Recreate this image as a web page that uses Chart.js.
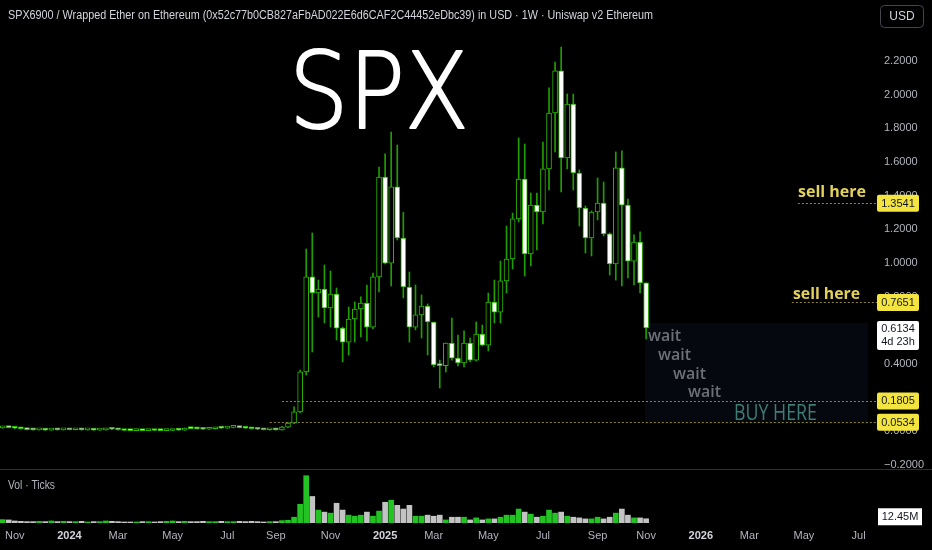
<!DOCTYPE html>
<html>
<head>
<meta charset="utf-8">
<script src="https://cdn.jsdelivr.net/npm/chart.js@4.4.1/dist/chart.umd.min.js"></script>
<style>
  html, body { margin: 0; padding: 0; background: #000; overflow: hidden; }
  #wrap { position: relative; width: 932px; height: 550px; }
  canvas { position: absolute; left: 0; }
  #main { top: 0; }
  #vol { top: 470px; }
</style>
</head>
<body>
<div id="wrap">
  <canvas id="main" width="932" height="470"></canvas>
  <canvas id="vol" width="932" height="80"></canvas>
</div>
<script>
// weekly bars, first bar = week of 2023-10-16, last = week of 2025-10-27
const firstWeek = Date.UTC(2023, 9, 16);

const opens = [
  0.020,0.024,0.022,0.018,0.015,0.010,0.008,0.009,0.007,0.010,0.008,0.011,0.009,0.011,0.008,0.009,0.007,0.008,0.014,0.012,
  0.009,0.005,0.004,0.005,0.004,0.006,0.005,0.004,0.005,0.010,0.007,0.018,0.016,0.014,0.012,0.015,0.020,0.019,0.023,0.027,
  0.022,0.018,0.015,0.012,0.009,0.010,
  0.008,0.025,0.049,0.115,0.353,0.917,0.821,0.845,0.732,0.815,0.613,0.530,0.667,0.726,0.762,0.619,0.917,1.510,0.999,1.451,
  1.148,0.857,0.619,0.691,0.744,0.649,0.394,0.390,0.524,0.435,0.406,0.524,0.423,0.578,0.512,0.768,0.708,0.893,1.023,1.261,
  1.498,1.053,1.343,1.302,1.558,1.890,2.140,1.623,1.943,1.534,1.326,1.148,1.302,1.355,1.172,0.994,1.564,1.343,1.011,1.124,0.881
];
const highs = [
  0.028,0.030,0.024,0.020,0.017,0.012,0.010,0.011,0.012,0.011,0.014,0.012,0.013,0.012,0.010,0.011,0.010,0.016,0.016,0.014,
  0.010,0.007,0.006,0.006,0.007,0.008,0.006,0.006,0.012,0.011,0.020,0.024,0.018,0.016,0.016,0.022,0.024,0.026,0.030,0.029,
  0.025,0.020,0.016,0.014,0.012,0.011,
  0.030,0.052,0.145,0.364,1.083,1.178,0.898,0.988,0.952,0.851,0.619,0.738,0.768,0.798,0.869,0.940,1.569,1.647,1.777,1.700,
  1.300,0.946,0.869,0.810,0.756,0.649,0.423,0.524,0.673,0.572,0.596,0.554,0.649,0.631,0.821,0.898,1.011,1.219,1.296,1.742,
  1.706,1.415,1.415,1.718,2.039,2.193,2.282,2.003,2.003,1.552,1.338,1.308,1.504,1.480,1.178,1.659,1.665,1.379,1.166,1.184,0.881
];
const lows = [
  0.018,0.020,0.016,0.012,0.008,0.006,0.006,0.006,0.006,0.007,0.007,0.008,0.008,0.007,0.006,0.006,0.005,0.007,0.010,0.007,
  0.004,0.003,0.003,0.003,0.003,0.004,0.003,0.003,0.004,0.006,0.006,0.015,0.012,0.010,0.010,0.013,0.017,0.017,0.020,0.020,
  0.017,0.013,0.010,0.008,0.006,0.006,
  0.006,0.022,0.045,0.109,0.334,0.471,0.679,0.643,0.619,0.542,0.412,0.453,0.530,0.560,0.536,0.610,0.827,0.994,0.863,1.136,
  0.792,0.530,0.602,0.554,0.453,0.382,0.257,0.352,0.423,0.388,0.382,0.412,0.418,0.507,0.477,0.643,0.643,0.821,0.964,1.243,
  0.922,0.982,1.077,1.231,1.433,1.659,1.421,1.558,1.433,1.219,1.059,1.041,1.255,1.160,0.928,0.898,0.863,0.911,0.869,0.821,0.548
];
const closes = [
  0.024,0.022,0.018,0.015,0.010,0.008,0.009,0.007,0.010,0.008,0.011,0.009,0.011,0.008,0.009,0.007,0.008,0.014,0.012,0.009,
  0.005,0.004,0.005,0.004,0.006,0.005,0.004,0.005,0.010,0.007,0.018,0.016,0.014,0.012,0.015,0.020,0.019,0.023,0.027,0.022,
  0.018,0.015,0.012,0.009,0.010,0.008,
  0.025,0.049,0.115,0.353,0.917,0.821,0.845,0.732,0.815,0.613,0.530,0.667,0.726,0.762,0.619,0.917,1.510,0.999,1.451,1.148,
  0.857,0.619,0.691,0.744,0.649,0.394,0.390,0.524,0.435,0.406,0.524,0.423,0.578,0.512,0.768,0.708,0.893,1.023,1.261,1.498,
  1.053,1.343,1.302,1.558,1.890,2.140,1.623,1.943,1.534,1.326,1.148,1.302,1.355,1.172,0.994,1.564,1.343,1.011,1.124,0.881,0.6134
];
// volume in millions
const volumes = [
  10,9,6,5,4,4,5,4,6,4,5,4,4,5,3,4,4,6,5,4,3,3,3,4,4,3,4,5,6,4,5,4,4,5,4,4,5,4,4,5,4,5,4,3,4,4,
  7,8,17,55,139,78,38,32,29,58,38,23,20,23,32,20,35,61,67,52,41,52,20,20,23,20,23,9,17,17,17,9,15,9,12,12,17,23,23,41,
  32,26,17,20,38,29,32,20,17,15,12,12,17,12,17,29,41,23,15,15,12.45
];

const priceTicks = [-0.2, 0, 0.2, 0.4, 0.6, 0.8, 1.0, 1.2, 1.4, 1.6, 1.8, 2.0, 2.2];
const monthTicks = [[2023,10],[2024,0],[2024,2],[2024,4],[2024,6],[2024,8],[2024,10],[2025,0],[2025,2],[2025,4],[2025,6],[2025,8],[2025,10],[2026,0],[2026,2],[2026,4],[2026,6]];
const tickLabels = ['Nov','2024','Mar','May','Jul','Sep','Nov','2025','Mar','May','Jul','Sep','Nov','2026','Mar','May','Jul'];

const levels = [1.3541, 0.7651, 0.1805, 0.0534];
const levelFrom = [131, 130, 46, 44];
const lastPrice = 0.6134;
const lastVolume = 12.45;

Chart.defaults.font.family = '"Liberation Sans", sans-serif';

const WEEK = 7 * 864e5;
const tickIdx = monthTicks.map(([y, m]) => Math.floor((Date.UTC(y, m, 1) - firstWeek) / WEEK));
const idx = opens.map((_, i) => i);
const isUp = i => closes[i] >= opens[i];
const xMin = -0.445, xMax = 142.55;

const fmt = v => (v < 0 ? '\u2212' : '') + Math.abs(v).toFixed(4);

function fitText(ctx, text, x, y, w, stroke) {
  const m = ctx.measureText(text).width;
  ctx.save();
  ctx.translate(x, y);
  ctx.scale(w / m, 1);
  ctx.fillText(text, 0, 0);
  if (stroke) ctx.strokeText(text, 0, 0);
  ctx.restore();
}

function box(ctx, x, y, w, h, fill) {
  ctx.fillStyle = fill;
  ctx.beginPath();
  ctx.roundRect(x, y, w, h, 2);
  ctx.fill();
}

const mainAnnot = {
  id: 'mainAnnot',
  beforeDatasetsDraw(chart) {
    const ctx = chart.ctx;
    ctx.save();
    ctx.fillStyle = '#060810';
    ctx.fillRect(645, 323, 223, 101);
    ctx.restore();
  },
  afterDraw(chart) {
    const { ctx } = chart;
    const xs = chart.scales.x, ys = chart.scales.y;
    ctx.save();

    // pane separator
    ctx.strokeStyle = '#2a2e39';
    ctx.lineWidth = 1;
    ctx.beginPath(); ctx.moveTo(0, 469.5); ctx.lineTo(932, 469.5); ctx.stroke();

    // title
    ctx.textBaseline = 'middle';
    ctx.textAlign = 'left';
    ctx.fillStyle = '#d1d4dc';
    ctx.font = '12px "Liberation Sans"';
    fitText(ctx, 'SPX6900 / Wrapped Ether on Ethereum (0x52c77b0CB827aFbAD022E6d6CAF2C44452eDbc39) in USD \u00b7 1W \u00b7 Uniswap v2 Ethereum', 8, 16, 645);

    // USD button
    ctx.strokeStyle = '#434651';
    ctx.beginPath(); ctx.roundRect(880.5, 5.5, 43, 22, 4); ctx.stroke();
    ctx.textAlign = 'center';
    ctx.fillStyle = '#d1d4dc';
    ctx.font = '12px "Liberation Sans"';
    ctx.fillText('USD', 902, 17);

    // hand written SPX
    ctx.textAlign = 'left';
    ctx.textBaseline = 'alphabetic';
    ctx.fillStyle = '#ffffff';
    ctx.strokeStyle = '#ffffff';
    ctx.lineWidth = 2.2;
    ctx.lineJoin = 'round';
    ctx.font = '200 106px "DejaVu Sans"';
    fitText(ctx, 'SPX', 289, 128, 180, true);

    // level lines
    ctx.lineWidth = 1;
    ctx.strokeStyle = '#8f8430';
    ctx.setLineDash([2, 2]);
    levels.forEach((v, i) => {
      const y = Math.round(ys.getPixelForValue(v)) + 0.5;
      ctx.beginPath();
      ctx.moveTo(xs.getPixelForValue(levelFrom[i]), y);
      ctx.lineTo(877, y);
      ctx.stroke();
    });
    ctx.setLineDash([]);

    // sell here
    ctx.textBaseline = 'middle';
    ctx.fillStyle = '#e2d15a';
    ctx.font = 'bold 16px "Open Sans"';
    fitText(ctx, 'sell here', 798, ys.getPixelForValue(levels[0]) - 11, 68);
    fitText(ctx, 'sell here', 793, ys.getPixelForValue(levels[1]) - 8, 67);

    // wait / BUY HERE
    ctx.fillStyle = '#6e7078';
    ctx.font = '600 17px "Open Sans"';
    [[648, 336], [658, 355], [673, 374], [688, 392]].forEach(([x, y]) => fitText(ctx, 'wait', x, y, 33));
    ctx.fillStyle = '#3f7c73';
    ctx.font = '21px "Open Sans"';
    fitText(ctx, 'BUY HERE', 734, 414, 83);

    // axis price boxes
    ctx.font = '11px "Liberation Sans"';
    ctx.textAlign = 'center';
    levels.forEach(v => {
      const y = ys.getPixelForValue(v);
      box(ctx, 877, y - 8.5, 42, 17, '#f3e43f');
      ctx.fillStyle = '#131722';
      ctx.fillText(v.toFixed(4), 898, y + 0.5);
    });
    const yl = ys.getPixelForValue(lastPrice);
    box(ctx, 877, yl - 7, 42, 29, '#ffffff');
    ctx.fillStyle = '#131722';
    ctx.fillText(lastPrice.toFixed(4), 898, yl + 0.5);
    ctx.fillText('4d 23h', 898, yl + 14);

    ctx.restore();
  }
};

new Chart(document.getElementById('main'), {
  type: 'bar',
  data: {
    datasets: [
      {
        label: 'wick',
        data: idx.map(i => ({ x: i, y: [lows[i], highs[i]] })),
        backgroundColor: '#1f9e00',
        barThickness: 1,
        grouped: false,
        order: 2
      },
      {
        label: 'body',
        data: idx.map(i => ({ x: i, y: [opens[i], closes[i]] })),
        backgroundColor: idx.map(i => isUp(i) ? '#000000' : '#ffffff'),
        borderColor: '#2ab800',
        borderWidth: 1,
        borderSkipped: false,
        barThickness: 5,
        minBarLength: 2,
        grouped: false,
        order: 1
      }
    ]
  },
  options: {
    responsive: false,
    animation: false,
    events: [],
    layout: { padding: { top: 30, left: 0, right: 0, bottom: 0 } },
    plugins: { legend: { display: false }, tooltip: { enabled: false } },
    scales: {
      x: { type: 'linear', min: xMin, max: xMax, offset: false, display: false },
      y: {
        position: 'right',
        min: -0.2298,
        max: 2.383,
        grid: { display: false, drawTicks: false },
        border: { display: false },
        afterBuildTicks: s => { s.ticks = priceTicks.map(v => ({ value: v })); },
        afterFit: s => { s.width = 64; s.paddingTop = 0; s.paddingBottom = 0; },
        ticks: { padding: 16, color: '#b2b5be', font: { size: 11 }, callback: v => fmt(v) }
      }
    }
  },
  plugins: [mainAnnot]
});

const volAnnot = {
  id: 'volAnnot',
  afterDraw(chart) {
    const { ctx } = chart;
    const ys = chart.scales.y;
    ctx.save();
    ctx.textBaseline = 'middle';
    ctx.textAlign = 'left';
    ctx.fillStyle = '#b2b5be';
    ctx.font = '12px "Liberation Sans"';
    fitText(ctx, 'Vol \u00b7 Ticks', 8, 16, 47);
    const y = ys.getPixelForValue(lastVolume) - 2;
    ctx.fillStyle = '#ffffff';
    ctx.fillRect(878, y - 8.5, 44, 17);
    ctx.fillStyle = '#131722';
    ctx.textAlign = 'center';
    ctx.font = '11px "Liberation Sans"';
    ctx.fillText(lastVolume.toFixed(2) + 'M', 900, y);
    ctx.restore();
  }
};

new Chart(document.getElementById('vol'), {
  type: 'bar',
  data: {
    datasets: [{
      data: idx.map(i => ({ x: i, y: volumes[i] })),
      backgroundColor: idx.map(i => isUp(i) ? '#22c322' : '#c3c3c3'),
      barThickness: 5
    }]
  },
  options: {
    responsive: false,
    animation: false,
    events: [],
    layout: { padding: 0 },
    plugins: { legend: { display: false }, tooltip: { enabled: false } },
    scales: {
      x: {
        type: 'linear', min: xMin, max: xMax, offset: false,
        grid: { display: false, drawTicks: false },
        border: { display: false },
        afterBuildTicks: s => { s.ticks = tickIdx.map(v => ({ value: v })); },
        afterFit: s => { s.height = 27; s.paddingLeft = 0; s.paddingRight = 0; },
        ticks: {
          autoSkip: false, maxRotation: 0, padding: 6,
          callback: (v, i) => tickLabels[i],
          color: c => /^\d{4}$/.test(tickLabels[c.index]) ? '#d1d4dc' : '#b2b5be',
          font: c => ({ size: 11, weight: /^\d{4}$/.test(tickLabels[c.index]) ? 'bold' : 'normal' })
        }
      },
      y: {
        position: 'right', min: 0, max: 155.8,
        ticks: { display: false },
        grid: { display: false, drawTicks: false },
        border: { display: false },
        afterFit: s => { s.width = 64; }
      }
    }
  },
  plugins: [volAnnot]
});
</script>
</body>
</html>
